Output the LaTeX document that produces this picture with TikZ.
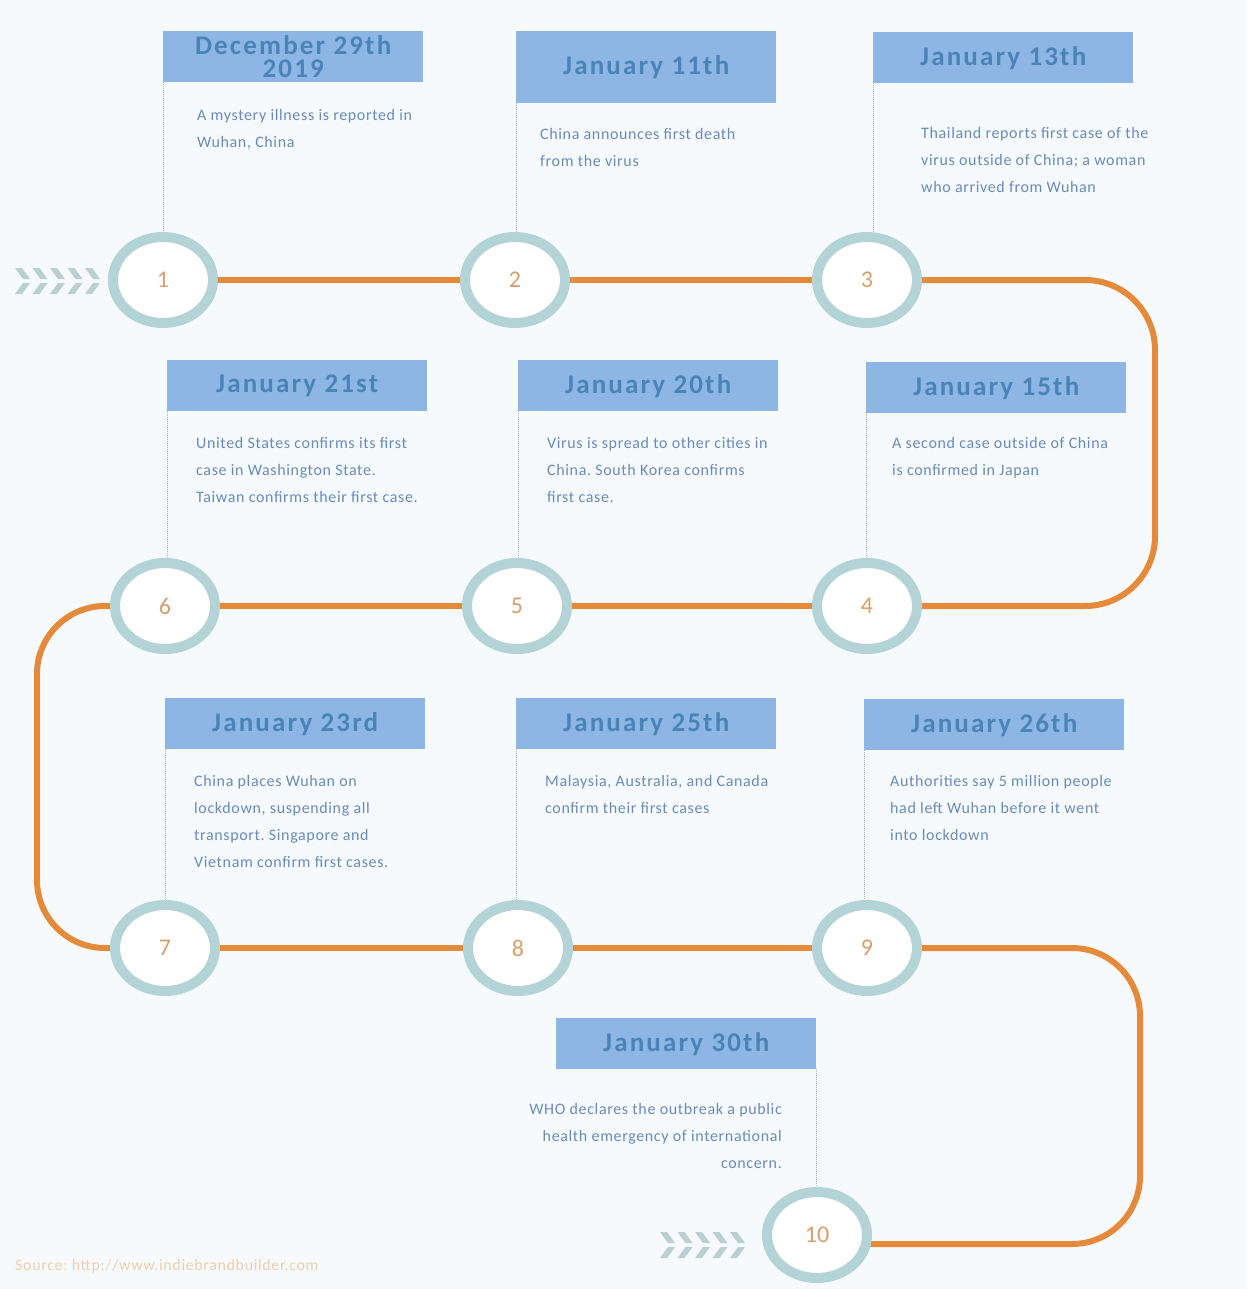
\documentclass[tikz,border=0pt]{standalone}
\usepackage{fontspec}
\setmainfont{Carlito}
\newfontfamily\titlefont[LetterSpace=8]{Carlito Bold}
\newfontfamily\descfont[LetterSpace=4]{Carlito}
\frenchspacing
\usetikzlibrary{shapes.geometric,backgrounds,calc}
\definecolor{bg}{HTML}{F6FAFD}
\definecolor{ring}{HTML}{B3D3D6}
\definecolor{track}{HTML}{E5893A}
\definecolor{boxfill}{HTML}{8DB6E4}
\definecolor{titlec}{HTML}{4A84B6}
\definecolor{descc}{HTML}{6A8BB8}
\definecolor{numc}{HTML}{D5A06C}
\definecolor{chev}{HTML}{B9D0D3}
\definecolor{dotc}{HTML}{A8B6C4}
\definecolor{srcc}{HTML}{F0CFAE}
\begin{document}
\begin{tikzpicture}[x=1pt,y=-1pt,
  ringnode/.style={ellipse, draw=ring, line width=10pt, fill=white,
    minimum width=100pt, minimum height=86pt, inner sep=0pt, text=numc,
    font=\fontsize{24}{24}\selectfont},
  titlebox/.style={fill=boxfill, minimum width=260pt, minimum height=51pt,
    inner sep=0pt, text=titlec, align=center, anchor=north west,
    font=\titlefont\fontsize{27}{23}\selectfont},
  desc/.style={anchor=north west, inner sep=0pt, align=left, text=descc,
    font=\descfont\fontsize{16}{27}\selectfont},
  dotline/.style={draw=dotc, line width=1pt, densely dotted},
  trackline/.style={draw=track, line width=6pt},
  chevron/.style={fill=chev}]
\useasboundingbox (0,0) rectangle (1247,1289);

% title boxes
\node[titlebox] (b1) at (163,31) {December 29th\\2019};
\node[titlebox, minimum height=72pt] (b2) at (516,31) {January 11th};
\node[titlebox] (b3) at (873,32) {January 13th};
\node[titlebox] (b6) at (167,360) {January 21st};
\node[titlebox] (b5) at (518,360) {January 20th};
\node[titlebox] (b4) at (866,362) {January 15th};
\node[titlebox] (b7) at (165,698) {January 23rd};
\node[titlebox] (b8) at (516,698) {January 25th};
\node[titlebox] (b9) at (864,699) {January 26th};
\node[titlebox] (b10) at (556,1018) {January 30th};

% descriptions
\node[desc] (d1) at (197,109) {A mystery illness is reported in\\Wuhan, China};
\node[desc] (d2) at (540,128) {China announces first death\\from the virus};
\node[desc] (d3) at (921,127) {Thailand reports first case of the\\virus outside of China; a woman\\who arrived from Wuhan};
\node[desc] (d6) at (196,437) {United States confirms its first\\case in Washington State.\\Taiwan confirms their first case.};
\node[desc] (d5) at (547,437) {Virus is spread to other cities in\\China. South Korea confirms\\first case.};
\node[desc] (d4) at (892,437) {A second case outside of China\\is confirmed in Japan};
\node[desc] (d7) at (194,775) {China places Wuhan on\\lockdown, suspending all\\transport. Singapore and\\Vietnam confirm first cases.};
\node[desc] (d8) at (545,775) {Malaysia, Australia, and Canada\\confirm their first cases};
\node[desc] (d9) at (890,775) {Authorities say 5 million people\\had left Wuhan before it went\\into lockdown};
\node[desc, anchor=north east, align=right] (d10) at (782,1103) {WHO declares the outbreak a public\\health emergency of international\\concern.};

% circles
\node[ringnode] (c1) at (163,280) {1};
\node[ringnode] (c2) at (515,280) {2};
\node[ringnode] (c3) at (867,280) {3};
\node[ringnode] (c4) at (867,606) {4};
\node[ringnode] (c5) at (517,606) {5};
\node[ringnode] (c6) at (165,606) {6};
\node[ringnode] (c7) at (165,948) {7};
\node[ringnode] (c8) at (518,948) {8};
\node[ringnode] (c9) at (867,948) {9};
\node[ringnode] (c10) at (817,1235) {10};

% dotted leaders
\draw[dotline] (b1.south west) -- (b1.south west |- c1.north);
\draw[dotline] (b2.south west) -- (b2.south west |- c2.north);
\draw[dotline] (b3.south west) -- (b3.south west |- c3.north);
\draw[dotline] (b4.south west) -- (b4.south west |- c4.north);
\draw[dotline] (b5.south west) -- (b5.south west |- c5.north);
\draw[dotline] (b6.south west) -- (b6.south west |- c6.north);
\draw[dotline] (b7.south west) -- (b7.south west |- c7.north);
\draw[dotline] (b8.south west) -- (b8.south west |- c8.north);
\draw[dotline] (b9.south west) -- (b9.south west |- c9.north);
\draw[dotline] (b10.south east) -- (b10.south east |- c10.north);

% chevrons
\foreach \i in {0,...,4}{
  \pgfmathsetmacro{\xa}{15+17.5*\i}
  \fill[chevron] (\xa,268) -- (\xa+7,268) -- (\xa+15,279) -- (\xa+8,279) -- cycle;
  \fill[chevron] (\xa+8,283) -- (\xa+15,283) -- (\xa+7,294) -- (\xa,294) -- cycle;
  \pgfmathsetmacro{\xb}{660+17.5*\i}
  \fill[chevron] (\xb,1232) -- (\xb+7,1232) -- (\xb+15,1243) -- (\xb+8,1243) -- cycle;
  \fill[chevron] (\xb+8,1247) -- (\xb+15,1247) -- (\xb+7,1258) -- (\xb,1258) -- cycle;
}

% source
\node[anchor=west, inner sep=0pt, text=srcc, font=\descfont\fontsize{16}{16}\selectfont] (src) at (15,1266) {Source: http://www.indiebrandbuilder.com};

\coordinate (t10) at (0,1244);
\begin{scope}[on background layer]
\fill[bg] (0,0) rectangle (1247,1289);
\draw[trackline] (c1.center) -- (c2.center) -- (c3.center);
\draw[trackline, rounded corners=70pt] (c3.center) -- (1155,280) -- (1155,606) -- (c4.center);
\draw[trackline] (c4.center) -- (c5.center) -- (c6.center);
\draw[trackline, rounded corners=68pt] (c6.center) -- (37,606) -- (37,948) -- (c7.center);
\draw[trackline] (c7.center) -- (c8.center) -- (c9.center);
\draw[trackline, rounded corners=68pt] (c9.center) -- (1140,948) -- (1140,1244) -- (c10 |- t10);
\end{scope}
\end{tikzpicture}
\end{document}
